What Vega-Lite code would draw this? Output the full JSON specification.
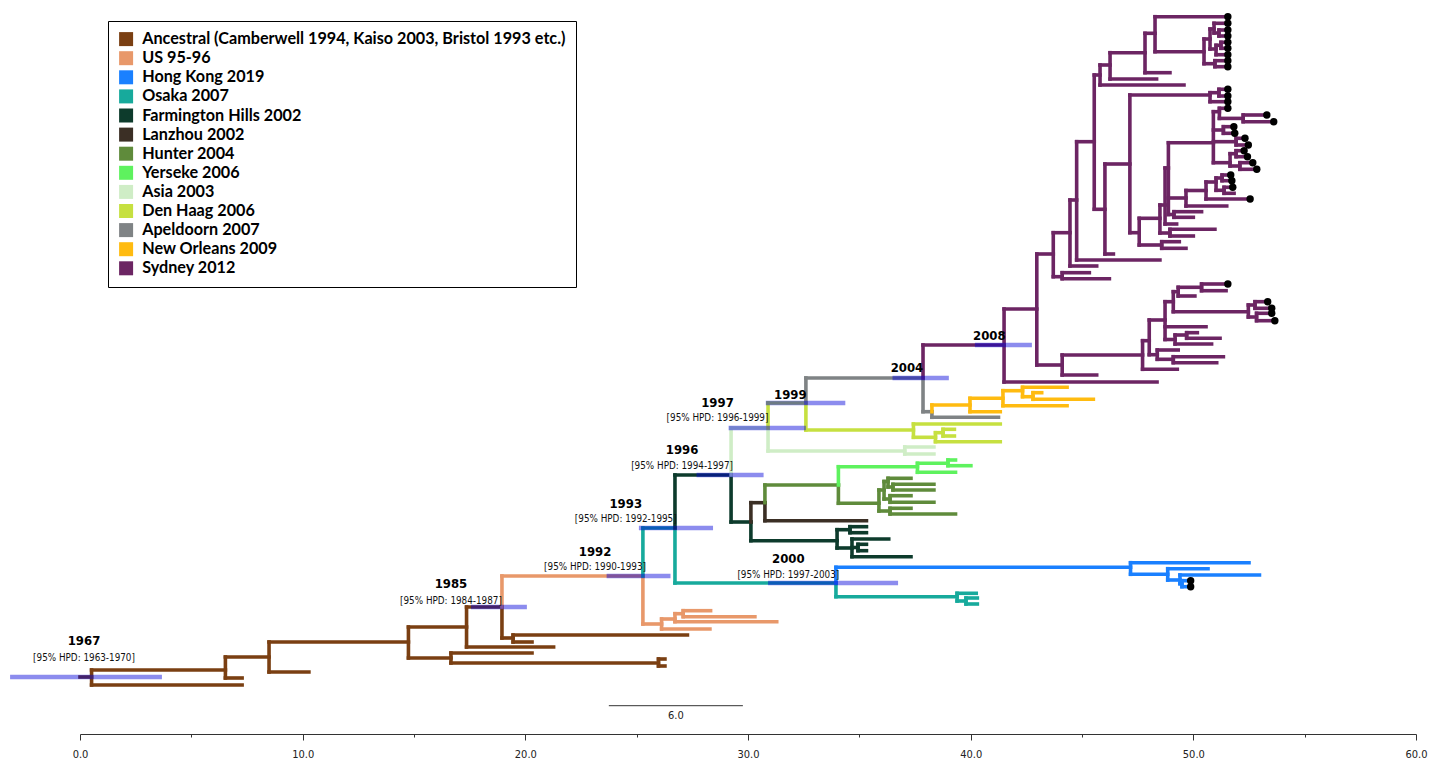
{
"$schema": "https://vega.github.io/schema/vega-lite/v6.json",
"width": 1336, "height": 734,
"autosize": {"type": "none"},
"padding": {"left": 80, "top": 0, "right": 33, "bottom": 26},
"background": "white",
"config": {"view": {"stroke": null}},
"datasets": {
"clades": [
{"c":"A","clade":"Ancestral (Camberwell 1994, Kaiso 2003, Bristol 1993 etc.)"},
{"c":"U","clade":"US 95-96"},
{"c":"HK","clade":"Hong Kong 2019"},
{"c":"O","clade":"Osaka 2007"},
{"c":"F","clade":"Farmington Hills 2002"},
{"c":"L","clade":"Lanzhou 2002"},
{"c":"H","clade":"Hunter 2004"},
{"c":"Y","clade":"Yerseke 2006"},
{"c":"AS","clade":"Asia 2003"},
{"c":"D","clade":"Den Haag 2006"},
{"c":"AP","clade":"Apeldoorn 2007"},
{"c":"N","clade":"New Orleans 2009"},
{"c":"S","clade":"Sydney 2012"}
],
"branches": [
{"x":0,"x2":0.52,"y":677,"y2":677,"c":"A"},
{"x":0.52,"x2":0.52,"y":670,"y2":685,"c":"A"},
{"x":0.52,"x2":6.53,"y":670,"y2":670,"c":"A"},
{"x":0.52,"x2":7.28,"y":685,"y2":685,"c":"A"},
{"x":6.53,"x2":6.53,"y":657,"y2":678,"c":"A"},
{"x":6.53,"x2":8.49,"y":657,"y2":657,"c":"A"},
{"x":6.53,"x2":7.28,"y":678,"y2":678,"c":"A"},
{"x":8.49,"x2":8.49,"y":642,"y2":672,"c":"A"},
{"x":8.49,"x2":14.75,"y":642,"y2":642,"c":"A"},
{"x":8.49,"x2":10.28,"y":672,"y2":672,"c":"A"},
{"x":14.75,"x2":14.75,"y":627,"y2":658,"c":"A"},
{"x":14.75,"x2":17.36,"y":627,"y2":627,"c":"A"},
{"x":14.75,"x2":16.66,"y":658,"y2":658,"c":"A"},
{"x":16.66,"x2":16.66,"y":653,"y2":663,"c":"A"},
{"x":16.66,"x2":20.3,"y":653,"y2":653,"c":"A"},
{"x":16.66,"x2":25.98,"y":663,"y2":663,"c":"A"},
{"x":25.98,"x2":25.98,"y":659,"y2":666,"c":"A"},
{"x":25.98,"x2":26.27,"y":659,"y2":659,"c":"A"},
{"x":25.98,"x2":26.27,"y":666,"y2":666,"c":"A"},
{"x":17.36,"x2":17.36,"y":607,"y2":647,"c":"A"},
{"x":17.36,"x2":18.95,"y":607,"y2":607,"c":"A"},
{"x":17.36,"x2":21.27,"y":647,"y2":647,"c":"A"},
{"x":18.95,"x2":18.95,"y":607,"y2":638,"c":"A"},
{"x":18.95,"x2":19.45,"y":638,"y2":638,"c":"A"},
{"x":19.45,"x2":19.45,"y":635,"y2":642,"c":"A"},
{"x":19.45,"x2":27.28,"y":635,"y2":635,"c":"A"},
{"x":19.45,"x2":20.3,"y":642,"y2":642,"c":"A"},

{"x":18.95,"x2":18.95,"y":576,"y2":607,"c":"U"},
{"x":18.95,"x2":25.28,"y":576,"y2":576,"c":"U"},
{"x":25.28,"x2":25.28,"y":576,"y2":624,"c":"U"},
{"x":25.28,"x2":26.12,"y":624,"y2":624,"c":"U"},
{"x":26.12,"x2":26.12,"y":619,"y2":629,"c":"U"},
{"x":26.12,"x2":28.29,"y":629,"y2":629,"c":"U"},
{"x":26.12,"x2":26.72,"y":619,"y2":619,"c":"U"},
{"x":26.72,"x2":26.72,"y":613.7,"y2":621.7,"c":"U"},
{"x":26.72,"x2":31.29,"y":621.7,"y2":621.7,"c":"U"},
{"x":26.72,"x2":27.09,"y":613.7,"y2":613.7,"c":"U"},
{"x":27.09,"x2":27.09,"y":610.7,"y2":616.7,"c":"U"},
{"x":27.09,"x2":28.32,"y":610.7,"y2":610.7,"c":"U"},
{"x":27.09,"x2":30.31,"y":616.7,"y2":616.7,"c":"U"},

{"x":25.28,"x2":25.28,"y":528,"y2":576,"c":"O"},
{"x":25.28,"x2":26.72,"y":528,"y2":528,"c":"O"},
{"x":26.72,"x2":26.72,"y":528,"y2":583,"c":"O"},
{"x":26.72,"x2":33.95,"y":583,"y2":583,"c":"O"},
{"x":33.95,"x2":33.95,"y":583,"y2":596.7,"c":"O"},
{"x":33.95,"x2":39.39,"y":596.7,"y2":596.7,"c":"O"},
{"x":39.39,"x2":39.39,"y":593.3,"y2":601,"c":"O"},
{"x":39.39,"x2":40.25,"y":593.3,"y2":593.3,"c":"O"},
{"x":39.39,"x2":39.79,"y":601,"y2":601,"c":"O"},
{"x":39.79,"x2":39.79,"y":598,"y2":604,"c":"O"},
{"x":39.79,"x2":40.3,"y":598,"y2":598,"c":"O"},
{"x":39.79,"x2":40.3,"y":604,"y2":604,"c":"O"},

{"x":33.95,"x2":33.95,"y":567.3,"y2":583,"c":"HK"},
{"x":33.95,"x2":47.18,"y":567.3,"y2":567.3,"c":"HK"},
{"x":47.18,"x2":47.18,"y":562.7,"y2":574.3,"c":"HK"},
{"x":47.18,"x2":52.5,"y":562.7,"y2":562.7,"c":"HK"},
{"x":47.18,"x2":48.85,"y":574.3,"y2":574.3,"c":"HK"},
{"x":48.85,"x2":48.85,"y":568.7,"y2":580,"c":"HK"},
{"x":48.85,"x2":50.66,"y":568.7,"y2":568.7,"c":"HK"},
{"x":48.85,"x2":49.4,"y":580,"y2":580,"c":"HK"},
{"x":49.4,"x2":49.4,"y":575,"y2":583.7,"c":"HK"},
{"x":49.4,"x2":52.97,"y":575,"y2":575,"c":"HK"},
{"x":49.4,"x2":49.49,"y":583.7,"y2":583.7,"c":"HK"},
{"x":49.49,"x2":49.49,"y":580.7,"y2":586.7,"c":"HK"},
{"x":49.49,"x2":49.8,"y":580.7,"y2":580.7,"c":"HK"},
{"x":49.49,"x2":49.8,"y":586.7,"y2":586.7,"c":"HK"},

{"x":26.72,"x2":26.72,"y":475,"y2":528,"c":"F"},
{"x":26.72,"x2":29.24,"y":475,"y2":475,"c":"F"},
{"x":29.24,"x2":29.24,"y":475,"y2":522,"c":"F"},
{"x":29.24,"x2":30.13,"y":522,"y2":522,"c":"F"},
{"x":30.13,"x2":30.13,"y":522,"y2":540.7,"c":"F"},
{"x":30.13,"x2":34.0,"y":540.7,"y2":540.7,"c":"F"},
{"x":34.0,"x2":34.0,"y":529.7,"y2":548,"c":"F"},
{"x":34.0,"x2":34.58,"y":529.7,"y2":529.7,"c":"F"},
{"x":34.58,"x2":34.58,"y":526.7,"y2":532.7,"c":"F"},
{"x":34.58,"x2":35.32,"y":526.7,"y2":526.7,"c":"F"},
{"x":34.58,"x2":35.32,"y":532.7,"y2":532.7,"c":"F"},
{"x":34.0,"x2":34.67,"y":548,"y2":548,"c":"F"},
{"x":34.67,"x2":34.67,"y":539,"y2":556.7,"c":"F"},
{"x":34.67,"x2":36.32,"y":539,"y2":539,"c":"F"},
{"x":34.67,"x2":34.94,"y":547.5,"y2":547.5,"c":"F"},
{"x":34.94,"x2":34.94,"y":544.3,"y2":550.7,"c":"F"},
{"x":34.94,"x2":35.32,"y":544.3,"y2":544.3,"c":"F"},
{"x":34.94,"x2":35.32,"y":550.7,"y2":550.7,"c":"F"},
{"x":34.67,"x2":37.32,"y":556.7,"y2":556.7,"c":"F"},

{"x":30.13,"x2":30.13,"y":502.7,"y2":522,"c":"L"},
{"x":30.13,"x2":30.76,"y":502.7,"y2":502.7,"c":"L"},
{"x":30.76,"x2":30.76,"y":502.7,"y2":520.7,"c":"L"},
{"x":30.76,"x2":35.32,"y":520.7,"y2":520.7,"c":"L"},

{"x":30.76,"x2":30.76,"y":485,"y2":502.7,"c":"H"},
{"x":30.76,"x2":34.06,"y":485,"y2":485,"c":"H"},
{"x":34.06,"x2":34.06,"y":485,"y2":503.3,"c":"H"},
{"x":34.06,"x2":35.88,"y":503.3,"y2":503.3,"c":"H"},
{"x":35.88,"x2":35.88,"y":490,"y2":511,"c":"H"},
{"x":35.88,"x2":36.11,"y":490,"y2":490,"c":"H"},
{"x":36.11,"x2":36.11,"y":481.5,"y2":499,"c":"H"},
{"x":36.11,"x2":36.29,"y":481.5,"y2":481.5,"c":"H"},
{"x":36.29,"x2":36.29,"y":478.3,"y2":487,"c":"H"},
{"x":36.29,"x2":37.32,"y":478.3,"y2":478.3,"c":"H"},
{"x":36.29,"x2":36.51,"y":487,"y2":487,"c":"H"},
{"x":36.51,"x2":36.51,"y":484.3,"y2":490,"c":"H"},
{"x":36.51,"x2":38.35,"y":484.3,"y2":484.3,"c":"H"},
{"x":36.51,"x2":38.35,"y":490,"y2":490,"c":"H"},
{"x":36.11,"x2":36.38,"y":499,"y2":499,"c":"H"},
{"x":36.38,"x2":36.38,"y":495.7,"y2":502.3,"c":"H"},
{"x":36.38,"x2":37.32,"y":495.7,"y2":495.7,"c":"H"},
{"x":36.38,"x2":38.35,"y":502.3,"y2":502.3,"c":"H"},
{"x":35.88,"x2":36.38,"y":511,"y2":511,"c":"H"},
{"x":36.38,"x2":36.38,"y":508.3,"y2":514,"c":"H"},
{"x":36.38,"x2":37.32,"y":508.3,"y2":508.3,"c":"H"},
{"x":36.38,"x2":39.32,"y":514,"y2":514,"c":"H"},

{"x":34.06,"x2":34.06,"y":466.7,"y2":485,"c":"Y"},
{"x":34.06,"x2":37.61,"y":466.7,"y2":466.7,"c":"Y"},
{"x":37.61,"x2":37.61,"y":463.3,"y2":472.3,"c":"Y"},
{"x":37.61,"x2":38.98,"y":463.3,"y2":463.3,"c":"Y"},
{"x":38.98,"x2":38.98,"y":460,"y2":465.7,"c":"Y"},
{"x":38.98,"x2":39.32,"y":460,"y2":460,"c":"Y"},
{"x":38.98,"x2":40.01,"y":465.7,"y2":465.7,"c":"Y"},
{"x":37.61,"x2":39.32,"y":472.3,"y2":472.3,"c":"Y"},

{"x":29.24,"x2":29.24,"y":428,"y2":475,"c":"AS"},
{"x":29.24,"x2":30.9,"y":428,"y2":428,"c":"AS"},
{"x":30.9,"x2":30.9,"y":428,"y2":451,"c":"AS"},
{"x":30.9,"x2":37.04,"y":451,"y2":451,"c":"AS"},
{"x":37.04,"x2":37.04,"y":447,"y2":454,"c":"AS"},
{"x":37.04,"x2":38.35,"y":447,"y2":447,"c":"AS"},
{"x":37.04,"x2":38.35,"y":454,"y2":454,"c":"AS"},

{"x":30.9,"x2":30.9,"y":403,"y2":428,"c":"D"},
{"x":30.9,"x2":32.6,"y":403,"y2":403,"c":"D"},
{"x":32.6,"x2":32.6,"y":403,"y2":430,"c":"D"},
{"x":32.6,"x2":37.43,"y":430,"y2":430,"c":"D"},
{"x":37.43,"x2":37.43,"y":424,"y2":437.3,"c":"D"},
{"x":37.43,"x2":41.33,"y":424,"y2":424,"c":"D"},
{"x":37.43,"x2":38.42,"y":437.3,"y2":437.3,"c":"D"},
{"x":38.42,"x2":38.42,"y":432.7,"y2":441.7,"c":"D"},
{"x":38.42,"x2":38.76,"y":432.7,"y2":432.7,"c":"D"},
{"x":38.76,"x2":38.76,"y":429.3,"y2":436,"c":"D"},
{"x":38.76,"x2":39.27,"y":429.3,"y2":429.3,"c":"D"},
{"x":38.76,"x2":39.27,"y":436,"y2":436,"c":"D"},
{"x":38.42,"x2":41.33,"y":441.7,"y2":441.7,"c":"D"},

{"x":32.6,"x2":32.6,"y":378,"y2":403,"c":"AP"},
{"x":32.6,"x2":37.86,"y":378,"y2":378,"c":"AP"},
{"x":37.86,"x2":37.86,"y":378,"y2":411.7,"c":"AP"},
{"x":37.86,"x2":38.26,"y":411.7,"y2":411.7,"c":"AP"},
{"x":38.26,"x2":38.26,"y":411.7,"y2":417.3,"c":"AP"},
{"x":38.26,"x2":41.25,"y":417.3,"y2":417.3,"c":"AP"},

{"x":38.26,"x2":38.26,"y":405,"y2":411.7,"c":"N"},
{"x":38.26,"x2":39.97,"y":405,"y2":405,"c":"N"},
{"x":39.97,"x2":39.97,"y":398.3,"y2":411.7,"c":"N"},
{"x":39.97,"x2":41.33,"y":411.7,"y2":411.7,"c":"N"},
{"x":39.97,"x2":41.45,"y":398.3,"y2":398.3,"c":"N"},
{"x":41.45,"x2":41.45,"y":390.7,"y2":405.7,"c":"N"},
{"x":41.45,"x2":44.33,"y":405.7,"y2":405.7,"c":"N"},
{"x":41.45,"x2":42.33,"y":390.7,"y2":390.7,"c":"N"},
{"x":42.33,"x2":42.33,"y":387.3,"y2":396.7,"c":"N"},
{"x":42.33,"x2":44.33,"y":387.3,"y2":387.3,"c":"N"},
{"x":42.33,"x2":42.8,"y":396.7,"y2":396.7,"c":"N"},
{"x":42.8,"x2":42.8,"y":392.7,"y2":399.3,"c":"N"},
{"x":42.8,"x2":43.19,"y":392.7,"y2":392.7,"c":"N"},
{"x":42.8,"x2":45.51,"y":399.3,"y2":399.3,"c":"N"},

{"x":37.86,"x2":37.86,"y":345,"y2":378,"c":"S"},
{"x":37.86,"x2":41.5,"y":345,"y2":345,"c":"S"},
{"x":41.5,"x2":41.5,"y":309,"y2":382,"c":"S"},
{"x":41.5,"x2":48.37,"y":382,"y2":382,"c":"S"},
{"x":41.5,"x2":42.97,"y":309,"y2":309,"c":"S"},
{"x":42.97,"x2":42.97,"y":254,"y2":365,"c":"S"},
{"x":42.97,"x2":44.11,"y":365,"y2":365,"c":"S"},
{"x":44.11,"x2":44.11,"y":355,"y2":375,"c":"S"},
{"x":44.11,"x2":45.66,"y":375,"y2":375,"c":"S"},
{"x":44.11,"x2":47.72,"y":355,"y2":355,"c":"S"},
{"x":47.72,"x2":47.72,"y":340.7,"y2":369.3,"c":"S"},
{"x":47.72,"x2":49.28,"y":369.3,"y2":369.3,"c":"S"},
{"x":47.72,"x2":48.02,"y":340.7,"y2":340.7,"c":"S"},
{"x":48.02,"x2":48.02,"y":320,"y2":354.7,"c":"S"},
{"x":48.02,"x2":48.38,"y":354.7,"y2":354.7,"c":"S"},
{"x":48.38,"x2":48.38,"y":350,"y2":359.3,"c":"S"},
{"x":48.38,"x2":49.32,"y":350,"y2":350,"c":"S"},
{"x":48.38,"x2":49.1,"y":359.3,"y2":359.3,"c":"S"},
{"x":49.1,"x2":49.1,"y":356.7,"y2":362.7,"c":"S"},
{"x":49.1,"x2":51.35,"y":356.7,"y2":356.7,"c":"S"},
{"x":49.1,"x2":51.05,"y":362.7,"y2":362.7,"c":"S"},
{"x":48.02,"x2":48.73,"y":320,"y2":320,"c":"S"},
{"x":48.73,"x2":48.73,"y":301.7,"y2":339.5,"c":"S"},
{"x":48.73,"x2":50.57,"y":326.7,"y2":326.7,"c":"S"},
{"x":48.73,"x2":49.18,"y":339.5,"y2":339.5,"c":"S"},
{"x":49.18,"x2":49.18,"y":335,"y2":344,"c":"S"},
{"x":49.18,"x2":49.7,"y":335,"y2":335,"c":"S"},
{"x":49.7,"x2":49.7,"y":332.7,"y2":338.3,"c":"S"},
{"x":49.7,"x2":50.18,"y":332.7,"y2":332.7,"c":"S"},
{"x":49.7,"x2":51.2,"y":338.3,"y2":338.3,"c":"S"},
{"x":49.18,"x2":50.82,"y":344,"y2":344,"c":"S"},
{"x":48.73,"x2":49.1,"y":301.7,"y2":301.7,"c":"S"},
{"x":49.1,"x2":49.1,"y":291.7,"y2":311.7,"c":"S"},
{"x":49.1,"x2":49.32,"y":291.7,"y2":291.7,"c":"S"},
{"x":49.32,"x2":49.32,"y":287.3,"y2":296,"c":"S"},
{"x":49.32,"x2":50.07,"y":296,"y2":296,"c":"S"},
{"x":49.32,"x2":50.37,"y":287.3,"y2":287.3,"c":"S"},
{"x":50.37,"x2":50.37,"y":284,"y2":290.7,"c":"S"},
{"x":50.37,"x2":51.47,"y":284,"y2":284,"c":"S"},
{"x":50.37,"x2":51.47,"y":290.7,"y2":290.7,"c":"S"},
{"x":49.1,"x2":52.47,"y":311.7,"y2":311.7,"c":"S"},
{"x":52.47,"x2":52.47,"y":305,"y2":317,"c":"S"},
{"x":52.47,"x2":52.77,"y":305,"y2":305,"c":"S"},
{"x":52.77,"x2":52.77,"y":301.7,"y2":308.3,"c":"S"},
{"x":52.77,"x2":53.26,"y":301.7,"y2":301.7,"c":"S"},
{"x":52.77,"x2":53.44,"y":308.3,"y2":308.3,"c":"S"},
{"x":52.47,"x2":52.84,"y":317,"y2":317,"c":"S"},
{"x":52.84,"x2":52.84,"y":313.3,"y2":320.7,"c":"S"},
{"x":52.84,"x2":53.44,"y":313.3,"y2":313.3,"c":"S"},
{"x":52.84,"x2":53.58,"y":320.7,"y2":320.7,"c":"S"},

{"x":42.97,"x2":43.71,"y":254,"y2":254,"c":"S"},
{"x":43.71,"x2":43.71,"y":232.7,"y2":276.7,"c":"S"},
{"x":43.71,"x2":44.11,"y":276.7,"y2":276.7,"c":"S"},
{"x":44.11,"x2":44.11,"y":272.7,"y2":278.7,"c":"S"},
{"x":44.11,"x2":45.33,"y":272.7,"y2":272.7,"c":"S"},
{"x":44.11,"x2":46.23,"y":278.7,"y2":278.7,"c":"S"},
{"x":43.71,"x2":44.46,"y":232.7,"y2":232.7,"c":"S"},
{"x":44.46,"x2":44.46,"y":200,"y2":266,"c":"S"},
{"x":44.46,"x2":45.66,"y":266,"y2":266,"c":"S"},
{"x":44.46,"x2":44.76,"y":200,"y2":200,"c":"S"},
{"x":44.76,"x2":44.76,"y":141.7,"y2":260,"c":"S"},
{"x":44.76,"x2":48.5,"y":260,"y2":260,"c":"S"},
{"x":44.76,"x2":45.55,"y":141.7,"y2":141.7,"c":"S"},
{"x":45.55,"x2":45.55,"y":75,"y2":209.3,"c":"S"},
{"x":45.55,"x2":46.03,"y":209.3,"y2":209.3,"c":"S"},
{"x":46.03,"x2":46.03,"y":164,"y2":254,"c":"S"},
{"x":46.03,"x2":46.41,"y":254,"y2":254,"c":"S"},
{"x":46.03,"x2":47.15,"y":164,"y2":164,"c":"S"},
{"x":47.15,"x2":47.15,"y":95,"y2":232.7,"c":"S"},
{"x":47.15,"x2":50.75,"y":95,"y2":95,"c":"S"},
{"x":50.75,"x2":50.75,"y":92.7,"y2":101.7,"c":"S"},
{"x":50.75,"x2":51.15,"y":92.7,"y2":92.7,"c":"S"},
{"x":51.15,"x2":51.15,"y":89.3,"y2":96,"c":"S"},
{"x":51.15,"x2":51.47,"y":89.3,"y2":89.3,"c":"S"},
{"x":51.15,"x2":51.47,"y":96,"y2":96,"c":"S"},
{"x":50.75,"x2":51.47,"y":101.7,"y2":101.7,"c":"S"},
{"x":47.15,"x2":47.57,"y":232.7,"y2":232.7,"c":"S"},
{"x":47.57,"x2":47.57,"y":218.3,"y2":245,"c":"S"},
{"x":47.57,"x2":48.58,"y":245,"y2":245,"c":"S"},
{"x":48.58,"x2":48.58,"y":241.7,"y2":248.3,"c":"S"},
{"x":48.58,"x2":49.37,"y":241.7,"y2":241.7,"c":"S"},
{"x":48.58,"x2":49.67,"y":248.3,"y2":248.3,"c":"S"},
{"x":47.57,"x2":48.5,"y":218.3,"y2":218.3,"c":"S"},
{"x":48.5,"x2":48.5,"y":205,"y2":233,"c":"S"},
{"x":48.5,"x2":48.95,"y":233,"y2":233,"c":"S"},
{"x":48.95,"x2":48.95,"y":229.3,"y2":236,"c":"S"},
{"x":48.95,"x2":50.97,"y":229.3,"y2":229.3,"c":"S"},
{"x":48.95,"x2":50.0,"y":236,"y2":236,"c":"S"},
{"x":48.5,"x2":48.73,"y":205,"y2":205,"c":"S"},
{"x":48.73,"x2":48.73,"y":168,"y2":224,"c":"S"},
{"x":48.73,"x2":49.25,"y":224,"y2":224,"c":"S"},
{"x":48.73,"x2":48.88,"y":168,"y2":168,"c":"S"},
{"x":48.88,"x2":48.88,"y":142.7,"y2":214.5,"c":"S"},
{"x":48.88,"x2":49.13,"y":214.5,"y2":214.5,"c":"S"},
{"x":49.13,"x2":49.13,"y":211.7,"y2":217.3,"c":"S"},
{"x":49.13,"x2":50.37,"y":211.7,"y2":211.7,"c":"S"},
{"x":49.13,"x2":50.0,"y":217.3,"y2":217.3,"c":"S"},
{"x":48.88,"x2":49.67,"y":198,"y2":198,"c":"S"},
{"x":49.67,"x2":49.67,"y":190.5,"y2":206,"c":"S"},
{"x":49.67,"x2":51.5,"y":206,"y2":206,"c":"S"},
{"x":49.67,"x2":50.57,"y":190.5,"y2":190.5,"c":"S"},
{"x":50.57,"x2":50.57,"y":182,"y2":199,"c":"S"},
{"x":50.57,"x2":52.47,"y":199,"y2":199,"c":"S"},
{"x":50.57,"x2":51.02,"y":182,"y2":182,"c":"S"},
{"x":51.02,"x2":51.02,"y":178,"y2":190.3,"c":"S"},
{"x":51.02,"x2":51.29,"y":178,"y2":178,"c":"S"},
{"x":51.29,"x2":51.29,"y":175,"y2":180.7,"c":"S"},
{"x":51.29,"x2":51.6,"y":175,"y2":175,"c":"S"},
{"x":51.29,"x2":51.65,"y":180.7,"y2":180.7,"c":"S"},
{"x":51.02,"x2":51.38,"y":190.3,"y2":190.3,"c":"S"},
{"x":51.38,"x2":51.38,"y":187.3,"y2":193.3,"c":"S"},
{"x":51.38,"x2":51.69,"y":187.3,"y2":187.3,"c":"S"},
{"x":51.38,"x2":51.83,"y":193.3,"y2":193.3,"c":"S"},
{"x":48.88,"x2":50.9,"y":142.7,"y2":142.7,"c":"S"},
{"x":50.9,"x2":50.9,"y":111.7,"y2":162.7,"c":"S"},
{"x":50.9,"x2":51.17,"y":111.7,"y2":111.7,"c":"S"},
{"x":51.17,"x2":51.17,"y":108.3,"y2":118.4,"c":"S"},
{"x":51.17,"x2":51.47,"y":108.3,"y2":108.3,"c":"S"},
{"x":51.17,"x2":52.24,"y":118.4,"y2":118.4,"c":"S"},
{"x":52.24,"x2":52.24,"y":115,"y2":121.7,"c":"S"},
{"x":52.24,"x2":53.22,"y":115,"y2":115,"c":"S"},
{"x":52.24,"x2":53.53,"y":121.7,"y2":121.7,"c":"S"},
{"x":50.9,"x2":51.35,"y":130,"y2":130,"c":"S"},
{"x":51.35,"x2":51.35,"y":126.7,"y2":133.3,"c":"S"},
{"x":51.35,"x2":51.74,"y":126.7,"y2":126.7,"c":"S"},
{"x":51.35,"x2":51.78,"y":133.3,"y2":133.3,"c":"S"},
{"x":50.9,"x2":51.92,"y":141.7,"y2":141.7,"c":"S"},
{"x":51.92,"x2":51.92,"y":138.3,"y2":145,"c":"S"},
{"x":51.92,"x2":52.24,"y":138.3,"y2":138.3,"c":"S"},
{"x":51.92,"x2":52.39,"y":145,"y2":145,"c":"S"},
{"x":50.9,"x2":51.65,"y":162.7,"y2":162.7,"c":"S"},
{"x":51.65,"x2":51.65,"y":153.7,"y2":166,"c":"S"},
{"x":51.65,"x2":51.92,"y":153.7,"y2":153.7,"c":"S"},
{"x":51.92,"x2":51.92,"y":150.7,"y2":156.7,"c":"S"},
{"x":51.92,"x2":52.2,"y":150.7,"y2":150.7,"c":"S"},
{"x":51.92,"x2":52.35,"y":156.7,"y2":156.7,"c":"S"},
{"x":51.65,"x2":52.09,"y":166,"y2":166,"c":"S"},
{"x":52.09,"x2":52.09,"y":162.7,"y2":169.3,"c":"S"},
{"x":52.09,"x2":52.59,"y":162.7,"y2":162.7,"c":"S"},
{"x":52.09,"x2":52.77,"y":169.3,"y2":169.3,"c":"S"},

{"x":45.55,"x2":45.81,"y":75,"y2":75,"c":"S"},
{"x":45.81,"x2":45.81,"y":65,"y2":85,"c":"S"},
{"x":45.81,"x2":49.58,"y":85,"y2":85,"c":"S"},
{"x":45.81,"x2":46.26,"y":65,"y2":65,"c":"S"},
{"x":46.26,"x2":46.26,"y":52.7,"y2":79,"c":"S"},
{"x":46.26,"x2":48.35,"y":79,"y2":79,"c":"S"},
{"x":46.26,"x2":47.83,"y":52.7,"y2":52.7,"c":"S"},
{"x":47.83,"x2":47.83,"y":33.3,"y2":72.7,"c":"S"},
{"x":47.83,"x2":48.95,"y":72.7,"y2":72.7,"c":"S"},
{"x":47.83,"x2":48.28,"y":33.3,"y2":33.3,"c":"S"},
{"x":48.28,"x2":48.28,"y":16.7,"y2":51.7,"c":"S"},
{"x":48.28,"x2":51.47,"y":16.7,"y2":16.7,"c":"S"},
{"x":48.28,"x2":50.48,"y":51.7,"y2":51.7,"c":"S"},
{"x":50.48,"x2":50.48,"y":39,"y2":63.7,"c":"S"},
{"x":50.48,"x2":50.75,"y":39,"y2":39,"c":"S"},
{"x":50.75,"x2":50.75,"y":29,"y2":49,"c":"S"},
{"x":50.75,"x2":50.93,"y":29,"y2":29,"c":"S"},
{"x":50.93,"x2":50.93,"y":23.3,"y2":33,"c":"S"},
{"x":50.93,"x2":51.47,"y":23.3,"y2":23.3,"c":"S"},
{"x":50.93,"x2":51.15,"y":33,"y2":33,"c":"S"},
{"x":51.15,"x2":51.15,"y":30,"y2":36,"c":"S"},
{"x":51.15,"x2":51.47,"y":30,"y2":30,"c":"S"},
{"x":51.15,"x2":51.47,"y":36,"y2":36,"c":"S"},
{"x":50.75,"x2":51.02,"y":49,"y2":49,"c":"S"},
{"x":51.02,"x2":51.02,"y":45.3,"y2":54.7,"c":"S"},
{"x":51.02,"x2":51.24,"y":45.3,"y2":45.3,"c":"S"},
{"x":51.24,"x2":51.24,"y":42.3,"y2":48.3,"c":"S"},
{"x":51.24,"x2":51.47,"y":42.3,"y2":42.3,"c":"S"},
{"x":51.24,"x2":51.47,"y":48.3,"y2":48.3,"c":"S"},
{"x":51.02,"x2":51.47,"y":54.7,"y2":54.7,"c":"S"},
{"x":50.48,"x2":50.97,"y":63.7,"y2":63.7,"c":"S"},
{"x":50.97,"x2":50.97,"y":60.7,"y2":66.7,"c":"S"},
{"x":50.97,"x2":51.47,"y":60.7,"y2":60.7,"c":"S"},
{"x":50.97,"x2":51.47,"y":66.7,"y2":66.7,"c":"S"}
],
"hpd": [
{"x":-3.14,"x2":3.68,"y":677},
{"x":17.56,"x2":20.07,"y":607},
{"x":23.65,"x2":26.52,"y":576},
{"x":25.1,"x2":28.43,"y":528},
{"x":27.69,"x2":30.7,"y":475},
{"x":29.13,"x2":32.6,"y":428},
{"x":30.8,"x2":34.37,"y":403},
{"x":30.9,"x2":36.74,"y":583},
{"x":36.49,"x2":39.02,"y":378},
{"x":40.19,"x2":42.75,"y":345}
],
"tips": [
{"x":51.55,"y":16.7},{"x":51.55,"y":23.3},{"x":51.55,"y":30},{"x":51.55,"y":36},{"x":51.55,"y":42.3},
{"x":51.55,"y":48.3},{"x":51.55,"y":54.7},{"x":51.55,"y":60.7},{"x":51.55,"y":66.7},
{"x":51.55,"y":89.3},{"x":51.55,"y":96},{"x":51.55,"y":101.7},{"x":51.55,"y":108.3},
{"x":53.3,"y":115},{"x":53.61,"y":121.7},
{"x":51.82,"y":126.7},{"x":51.86,"y":133.3},{"x":52.32,"y":138.3},{"x":52.47,"y":145},
{"x":52.28,"y":150.7},{"x":52.43,"y":156.7},{"x":52.67,"y":162.7},{"x":52.85,"y":169.3},
{"x":51.68,"y":175},{"x":51.73,"y":180.7},{"x":51.77,"y":187.3},{"x":52.55,"y":199},
{"x":51.55,"y":284},{"x":53.34,"y":301.7},{"x":53.52,"y":308.3},{"x":53.52,"y":313.3},{"x":53.66,"y":320.7},
{"x":49.88,"y":580.7},{"x":49.88,"y":586.7}
],
"years": [
{"x":0.18,"y":641,"t":"1967"},
{"x":16.66,"y":584,"t":"1985"},
{"x":23.13,"y":551.5,"t":"1992"},
{"x":24.51,"y":503.5,"t":"1993"},
{"x":27.04,"y":449.5,"t":"1996"},
{"x":28.63,"y":402.7,"t":"1997"},
{"x":31.9,"y":394.5,"t":"1999"},
{"x":31.81,"y":559,"t":"2000"},
{"x":37.14,"y":367.5,"t":"2004"},
{"x":40.84,"y":335.5,"t":"2008"}
],
"hpdtext": [
{"x":0.18,"y":657.5,"t":"[95% HPD: 1963-1970]"},
{"x":16.66,"y":600.5,"t":"[95% HPD: 1984-1987]"},
{"x":23.13,"y":567.3,"t":"[95% HPD: 1990-1993]"},
{"x":24.51,"y":519,"t":"[95% HPD: 1992-1995]"},
{"x":27.04,"y":465.7,"t":"[95% HPD: 1994-1997]"},
{"x":28.63,"y":418.3,"t":"[95% HPD: 1996-1999]"},
{"x":31.81,"y":574.5,"t":"[95% HPD: 1997-2003]"}
],
"scalebar": [{"x":23.75,"x2":29.77,"y":705.7,"t":"6.0","ty":716}]
},
"layer": [
{
"data": {"name": "branches"},
"transform": [{"lookup": "c", "from": {"data": {"name": "clades"}, "key": "c", "fields": ["clade"]}}],
"mark": {"type": "rule", "strokeWidth": 3.6, "strokeCap": "square"},
"encoding": {
"x": {"field": "x", "type": "quantitative", "title": null,
"scale": {"domain": [0, 60], "nice": false, "zero": false},
"axis": {"values": [0,5,10,15,20,25,30,35,40,45,50,55,60],
"labelExpr": "datum.value % 10 === 0 ? format(datum.value, '.1f') : ''",
"grid": false, "domainColor": "#333333", "tickColor": "#333333", "domainWidth": 1, "tickWidth": 1,
"tickSize": {"condition": {"test": "datum.value % 10 === 0", "value": 6}, "value": 3},
"labelFont": "DejaVu Sans Condensed", "labelFontSize": 11,
"labelColor": "#222222", "labelPadding": 8, "labelOverlap": false, "labelFlush": false}},
"x2": {"field": "x2"},
"y": {"field": "y", "type": "quantitative", "axis": null,
"scale": {"domain": [0, 734], "reverse": true, "nice": false, "zero": false}},
"y2": {"field": "y2"},
"color": {"field": "clade", "type": "nominal",
"scale": {"domain": ["Ancestral (Camberwell 1994, Kaiso 2003, Bristol 1993 etc.)","US 95-96","Hong Kong 2019","Osaka 2007","Farmington Hills 2002","Lanzhou 2002","Hunter 2004","Yerseke 2006","Asia 2003","Den Haag 2006","Apeldoorn 2007","New Orleans 2009","Sydney 2012"],
"range": ["#7a3f12","#e8986a","#1a80ff","#17aa9c","#0d3b2c","#3b2f25","#5f8b3b","#5ef25e","#cfedc6","#c6e040","#7f8385","#ffbb10","#6c2563"]},
"legend": {"orient": "none", "legendX": 28, "legendY": 21, "title": null, "direction": "vertical",
"strokeColor": "#000000", "fillColor": "#ffffff", "padding": 10,
"symbolType": "square", "symbolSize": 196, "symbolStrokeWidth": 0,
"labelFont": "Lato", "labelFontSize": 16.2, "labelFontWeight": "bold", "labelColor": "#000000",
"labelLimit": 700, "labelOffset": 8, "rowPadding": 2.1,
"encode": {"symbols": {"update": {"fill": {"scale": "color", "field": "value"}, "opacity": {"value": 1}, "strokeWidth": {"value": 0}}}}}}
}
},
{
"data": {"name": "hpd"},
"mark": {"type": "rule", "strokeWidth": 4.5, "color": "#0000d9", "opacity": 0.45},
"encoding": {
"x": {"field": "x", "type": "quantitative"},
"x2": {"field": "x2"},
"y": {"field": "y", "type": "quantitative"}
}
},
{
"data": {"name": "tips"},
"mark": {"type": "point", "filled": true, "color": "#000000", "opacity": 1, "size": 55},
"encoding": {
"x": {"field": "x", "type": "quantitative"},
"y": {"field": "y", "type": "quantitative"}
}
},
{
"data": {"name": "years"},
"mark": {"type": "text", "font": "DejaVu Sans Condensed", "fontWeight": "bold", "fontSize": 13, "color": "#000000", "align": "center", "baseline": "middle"},
"encoding": {
"x": {"field": "x", "type": "quantitative"},
"y": {"field": "y", "type": "quantitative"},
"text": {"field": "t"}
}
},
{
"data": {"name": "hpdtext"},
"mark": {"type": "text", "font": "DejaVu Sans Condensed", "fontSize": 9.8, "color": "#111111", "align": "center", "baseline": "middle"},
"encoding": {
"x": {"field": "x", "type": "quantitative"},
"y": {"field": "y", "type": "quantitative"},
"text": {"field": "t"}
}
},
{
"data": {"name": "scalebar"},
"mark": {"type": "rule", "strokeWidth": 1, "color": "#333333"},
"encoding": {
"x": {"field": "x", "type": "quantitative"},
"x2": {"field": "x2"},
"y": {"field": "y", "type": "quantitative"}
}
},
{
"data": {"name": "scalebar"},
"mark": {"type": "text", "font": "DejaVu Sans Condensed", "fontSize": 11, "color": "#222222", "align": "center", "baseline": "middle", "dx": 67},
"encoding": {
"x": {"field": "x", "type": "quantitative"},
"y": {"field": "ty", "type": "quantitative"},
"text": {"field": "t"}
}
}
]
}
